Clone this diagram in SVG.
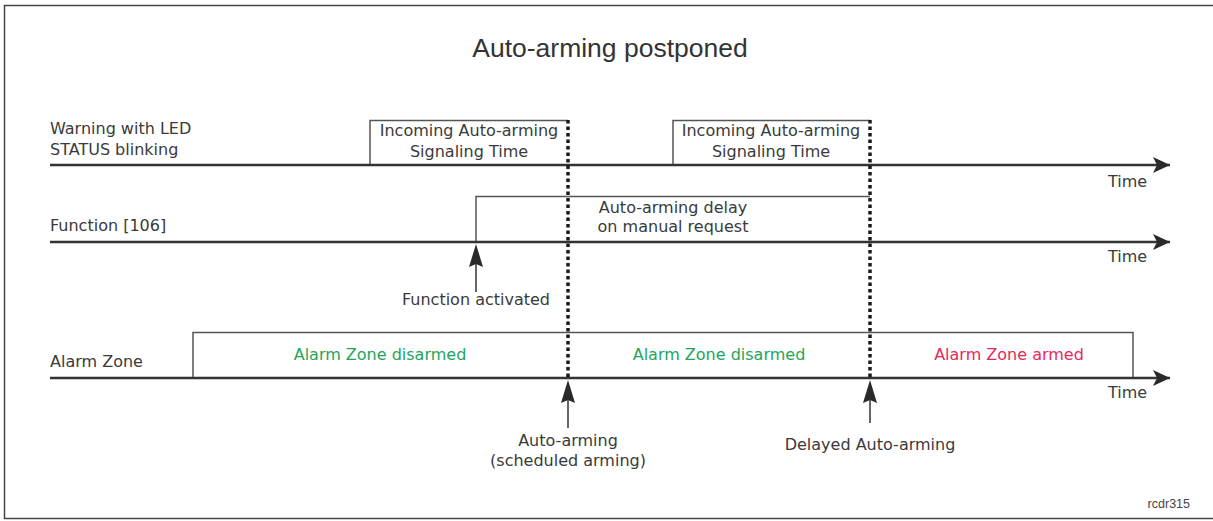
<svg xmlns="http://www.w3.org/2000/svg" width="1213" height="521" viewBox="0 0 1213 521">
<defs>
<marker id="ah" markerWidth="18" markerHeight="16" refX="17" refY="8" orient="auto" markerUnits="userSpaceOnUse">
<path d="M0,0 L17,8 L0,16 L4,8 Z" fill="#2a2a2a"/>
</marker>
</defs>
<style>
.lbl{font-family:"DejaVu Sans",Verdana,sans-serif;font-size:16px;fill:#3a3a3a}
.mid{text-anchor:middle}
.axis{stroke:#333;stroke-width:2.5;fill:none}
.box{stroke:#555;stroke-width:1.5;fill:none}
.dot{stroke:#1a1a1a;stroke-width:3.5;stroke-dasharray:3.5 3;fill:none}
.arr{stroke:#333;stroke-width:1.5;fill:none}
.head{fill:#2a2a2a}
.green{fill:#22a55a}
.red{fill:#e8285a}
</style>
<rect x="0" y="0" width="1213" height="521" fill="#fff"/>
<rect x="4.5" y="5.5" width="1215" height="513" fill="none" stroke="#444" stroke-width="1.5"/>
<text x="610" y="57" text-anchor="middle" font-family="'Liberation Sans',Arial,sans-serif" font-size="26.5" fill="#333">Auto-arming postponed</text>

<g id="row-warning">
<text class="lbl" x="50" y="134">Warning with LED</text>
<text class="lbl" x="50" y="155">STATUS blinking</text>
</g>
<g id="row-function">
<text class="lbl" x="50" y="231">Function [106]</text>
</g>
<g id="row-alarm">
<text class="lbl" x="50" y="367">Alarm Zone</text>
</g>

<g id="box-signal-1">
<polyline class="box" points="370,165 370,120.5 568,120.5"/>
<text class="lbl mid" x="469" y="136">Incoming Auto-arming</text>
<text class="lbl mid" x="469" y="157">Signaling Time</text>
</g>
<g id="box-signal-2">
<polyline class="box" points="673,165 673,120.5 870,120.5"/>
<text class="lbl mid" x="771" y="136">Incoming Auto-arming</text>
<text class="lbl mid" x="771" y="157">Signaling Time</text>
</g>
<g id="box-delay">
<polyline class="box" points="476,242 476,196.5 870,196.5"/>
<text class="lbl mid" x="673" y="213">Auto-arming delay</text>
<text class="lbl mid" x="673" y="232">on manual request</text>
</g>
<g id="box-alarm">
<polyline class="box" points="193,378 193,332.5 1133,332.5 1133,378"/>
<text class="lbl mid green" x="380" y="360">Alarm Zone disarmed</text>
<text class="lbl mid green" x="719" y="360">Alarm Zone disarmed</text>
<text class="lbl mid red" x="1009" y="360">Alarm Zone armed</text>
</g>

<g id="connectors">
<line class="axis" x1="50" y1="165" x2="1170" y2="165" marker-end="url(#ah)"/>
<line class="axis" x1="50" y1="242" x2="1170" y2="242" marker-end="url(#ah)"/>
<line class="axis" x1="50" y1="378" x2="1170" y2="378" marker-end="url(#ah)"/>
<line class="dot" x1="568" y1="120" x2="568" y2="378"/>
<line class="dot" x1="870" y1="120" x2="870" y2="378"/>
<line class="arr" x1="476" y1="292" x2="476" y2="262"/>
<path class="head" d="M476,244 L483,267 L476,264 L469,267 Z"/>
<line class="arr" x1="568" y1="428" x2="568" y2="398"/>
<path class="head" d="M568,380 L575,403 L568,400 L561,403 Z"/>
<line class="arr" x1="870" y1="423" x2="870" y2="398"/>
<path class="head" d="M870,380 L877,403 L870,400 L863,403 Z"/>
</g>

<g id="labels">
<text class="lbl" x="1108" y="187">Time</text>
<text class="lbl" x="1108" y="262">Time</text>
<text class="lbl" x="1108" y="398">Time</text>
<text class="lbl mid" x="476" y="305">Function activated</text>
<text class="lbl mid" x="568" y="446">Auto-arming</text>
<text class="lbl mid" x="568" y="466">(scheduled arming)</text>
<text class="lbl mid" x="870" y="450">Delayed Auto-arming</text>
<text x="1190" y="508" text-anchor="end" font-family="'Liberation Sans',Arial,sans-serif" font-size="12.5" fill="#444">rcdr315</text>
</g>
</svg>
